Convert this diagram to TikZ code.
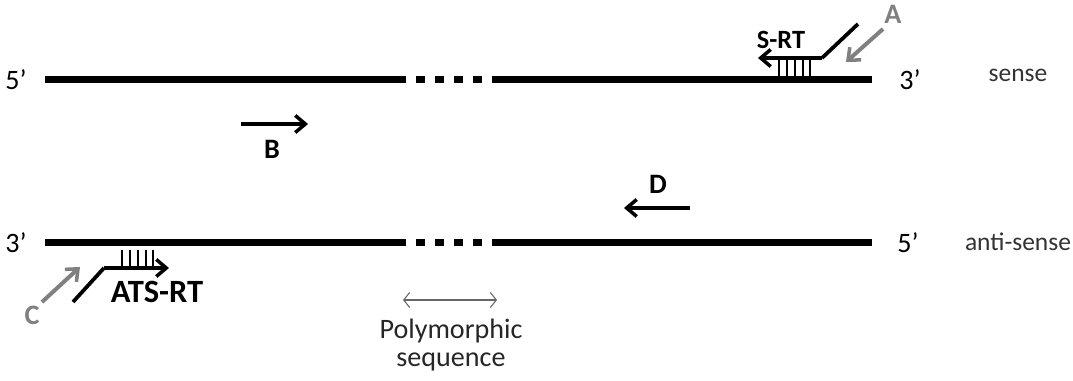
\documentclass[tikz,border=0pt]{standalone}
\usepackage{fontspec}
\setmainfont{Carlito}
\usetikzlibrary{arrows.meta, positioning}
\tikzset{
  strand/.style  = {line width=0.14cm, draw=black},
  primer/.style  = {line width=0.075cm, draw=black,
                    -{Straight Barb[length=0.2cm, width=0.34cm, line width=0.07cm]}},
  rtarm/.style   = {line width=0.075cm, draw=black},
  hatch/.style   = {line width=0.6pt, draw=black},
  pointer/.style = {line width=0.08cm, draw=black!50,
                    -{Straight Barb[length=0.2cm, width=0.34cm, line width=0.07cm]}},
  span/.style    = {line width=0.6pt, draw=black!60,
                    {Straight Barb[length=0.12cm, width=0.3cm]}-{Straight Barb[length=0.12cm, width=0.3cm]}},
  endlbl/.style  = {font=\fontsize{16}{18}\selectfont},
  strandlbl/.style = {font=\fontsize{14.5}{16}\selectfont, text=black!80},
  primerlbl/.style = {font=\fontsize{16}{18}\selectfont\bfseries},
  greylbl/.style   = {font=\fontsize{16}{18}\selectfont\bfseries, text=black!50},
}
\begin{document}
\begin{tikzpicture}[x=0.02cm, y=-0.02cm]
  \useasboundingbox (0,0) rectangle (1073,381);

  % strands
  \coordinate (s5) at (45,80);   \coordinate (s3) at (872,80);
  \coordinate (a3) at (45,243);  \coordinate (a5) at (872,243);
  \draw[strand] (s5) -- (s3);
  \draw[strand] (a3) -- (a5);

  % polymorphic gaps
  \foreach \gx in {406,425,444,463,482}{
    \fill[white] (\gx,70) rectangle ++(9.5,20);
    \fill[white] (\gx,233) rectangle ++(9.5,20);
  }

  % strand ends and names
  \node[endlbl] (s5lbl) at (16,80)  {5’};
  \node[endlbl] (s3lbl) at (910,80) {3’};
  \node[endlbl] (a3lbl) at (16,243) {3’};
  \node[endlbl] (a5lbl) at (908,243) {5’};
  \node[strandlbl] (sense) at (1018,75) {sense};
  \node[strandlbl] (antisense) at (1018,242) {anti-sense};

  % S-RT primer
  \coordinate (srtTail) at (858,24);
  \coordinate (srtKnee) at (822,58);
  \coordinate (srtTip)  at (758,58);
  \draw[rtarm] (srtTail) -- (srtKnee);
  \draw[primer] (srtKnee) -- (srtTip);
  \foreach \hx in {779,787,795,803,810}
    \draw[hatch] (\hx,58) -- (\hx,76);
  \node[primerlbl, font=\fontsize{15}{17}\selectfont\bfseries] (srt) at (781,40) {S-RT};
  \coordinate (aStart) at (883,29);
  \coordinate (aEnd)   at (846,62);
  \draw[pointer] (aStart) -- (aEnd);
  \node[greylbl] (albl) at (893,14) {A};

  % ATS-RT primer
  \coordinate (atsTail) at (73,302);
  \coordinate (atsKnee) at (104,268);
  \coordinate (atsTip)  at (169,268);
  \draw[rtarm] (atsTail) -- (atsKnee);
  \draw[primer] (atsKnee) -- (atsTip);
  \foreach \hx in {122,130,138,146,153}
    \draw[hatch] (\hx,250) -- (\hx,268);
  \node[primerlbl, font=\fontsize{18.5}{20}\selectfont\bfseries] (atsrt) at (157,292) {ATS-RT};
  \coordinate (cStart) at (42,302);
  \coordinate (cEnd)   at (80,267);
  \draw[pointer] (cStart) -- (cEnd);
  \node[greylbl] (clbl) at (32,315) {C};

  % primers B and D
  \coordinate (bStart) at (241,124);
  \coordinate (bEnd)   at (308,124);
  \draw[primer] (bStart) -- (bEnd);
  \node[primerlbl] (blbl) at (272,149) {B};
  \coordinate (dStart) at (690,208);
  \coordinate (dEnd)   at (624,208);
  \draw[primer] (dStart) -- (dEnd);
  \node[primerlbl] (dlbl) at (658,184) {D};

  % polymorphic sequence
  \coordinate (pL) at (403,300);
  \coordinate (pR) at (497,300);
  \draw[span] (pL) -- (pR);
  \node[endlbl, align=center, text=black!85] (poly) at (451,345)
    {Polymorphic\\[-2pt]sequence};
\end{tikzpicture}
\end{document}
